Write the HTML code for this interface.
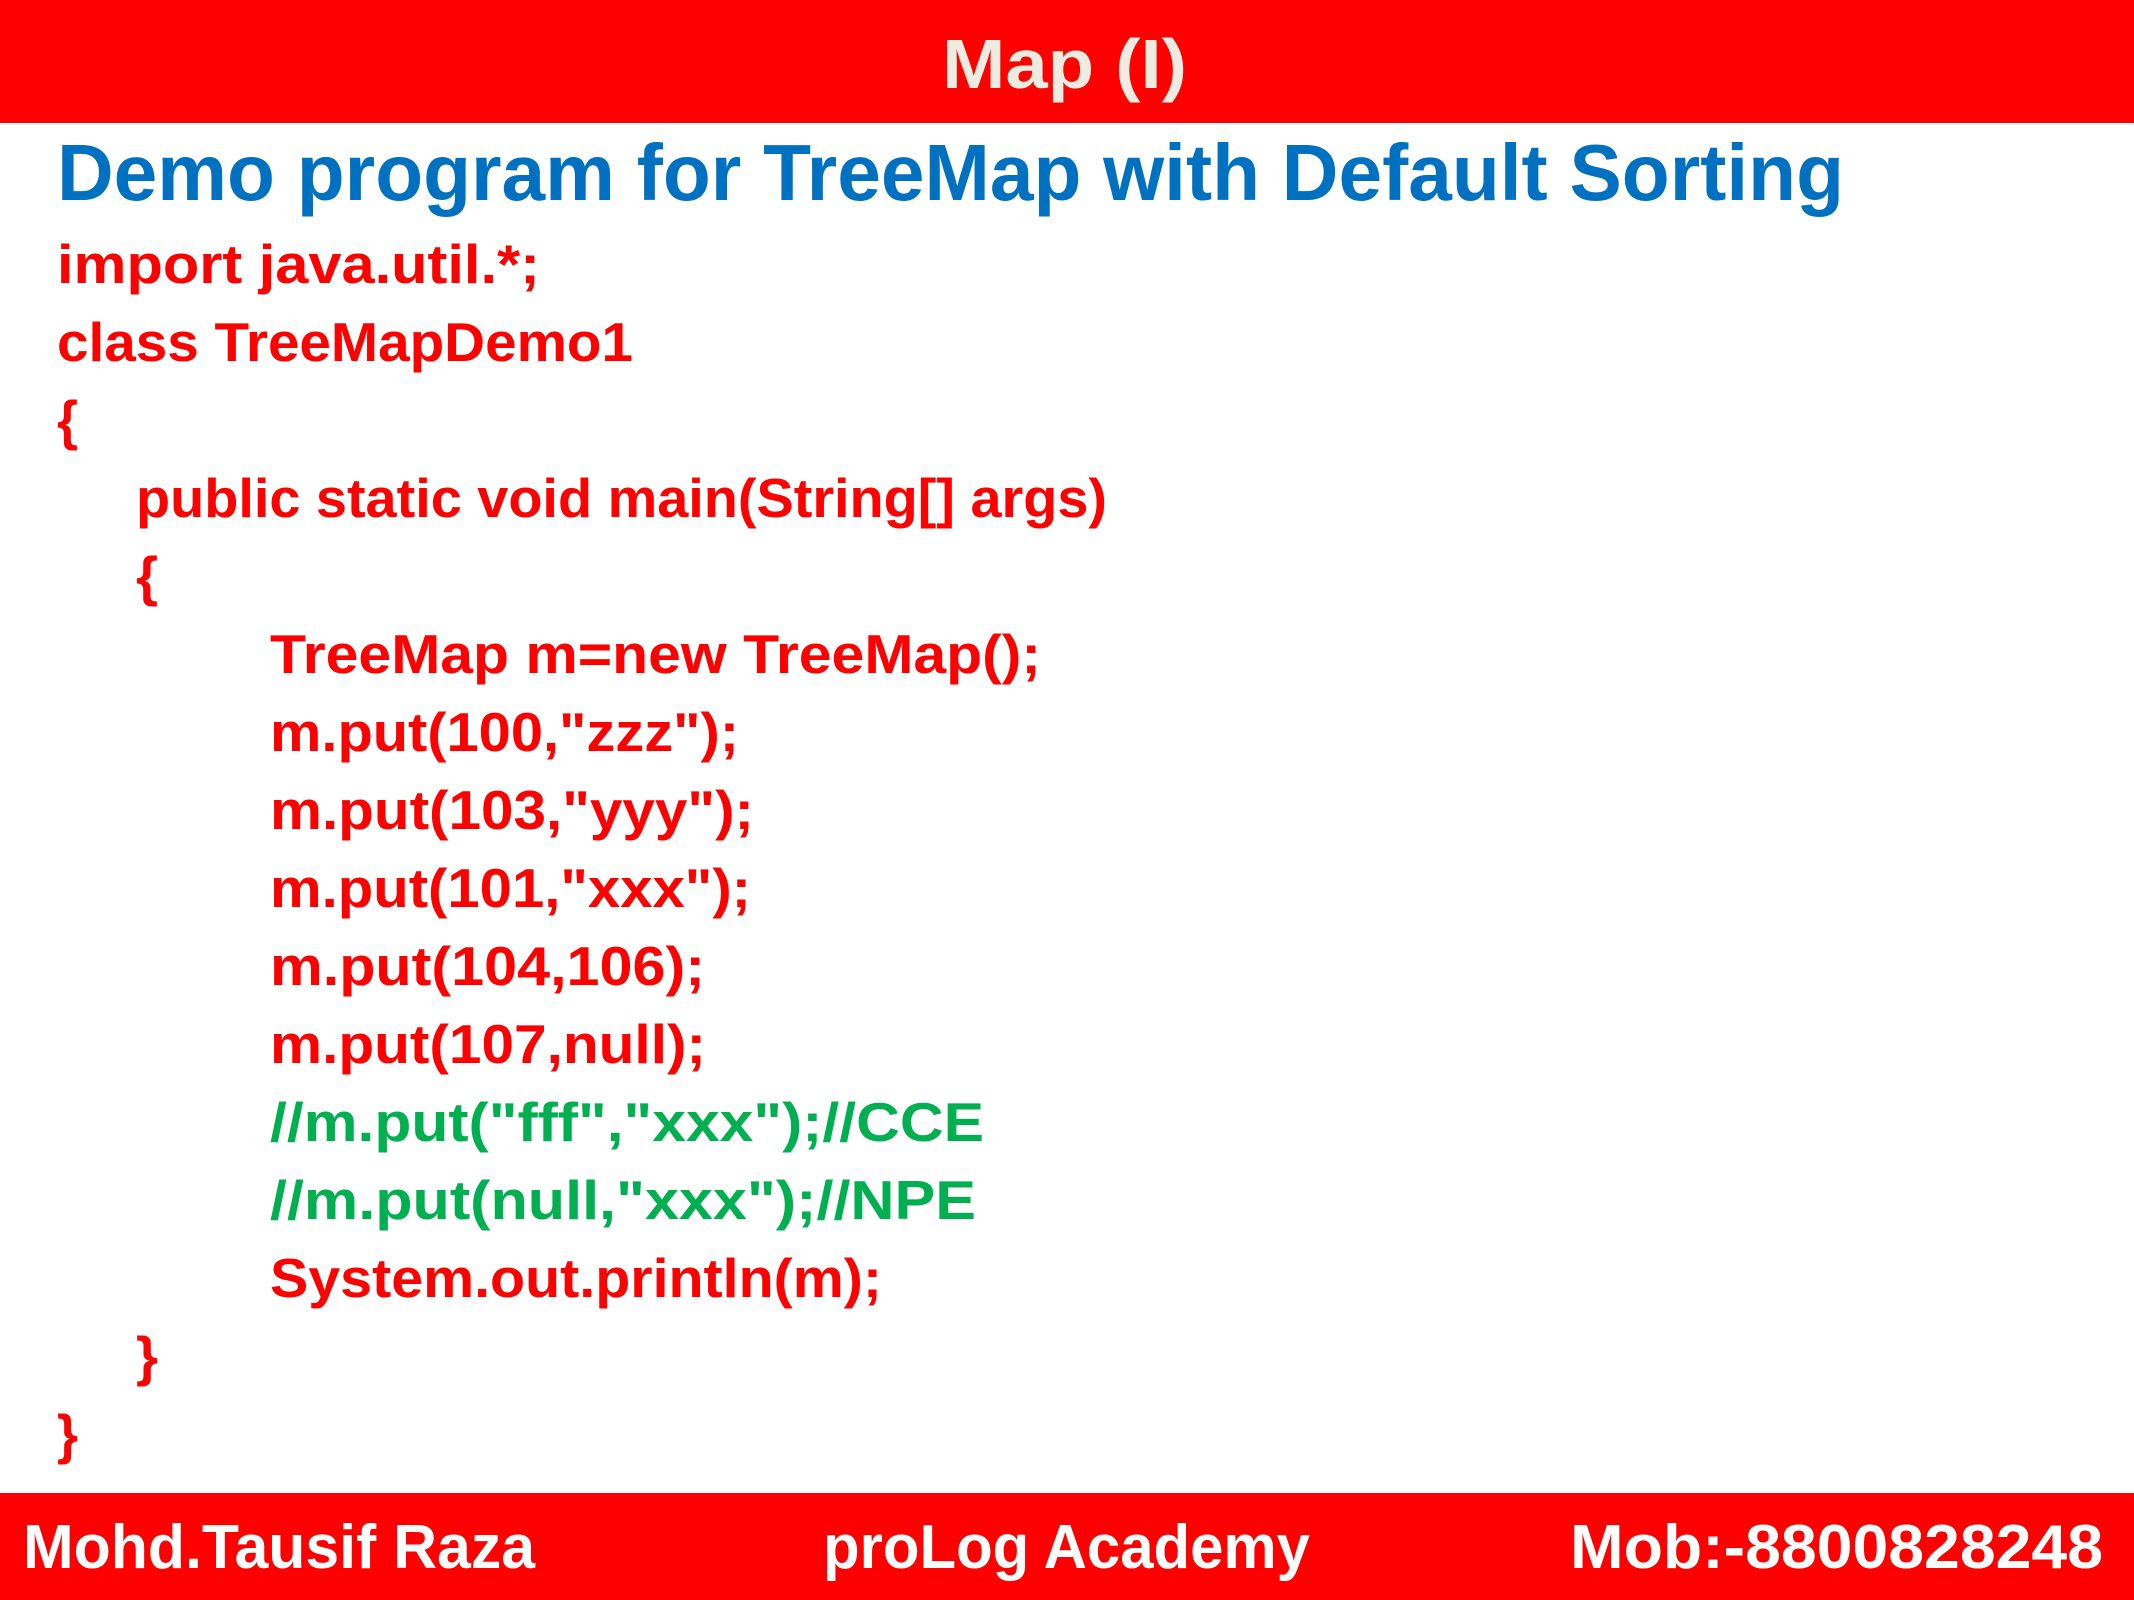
<!DOCTYPE html>
<html><head><meta charset="utf-8"><style>
html,body{margin:0;padding:0;background:#fff;}
svg{display:block;}
text{font-family:"Liberation Sans",sans-serif;font-weight:bold;}
</style></head><body>
<svg width="2134" height="1600" viewBox="0 0 2134 1600" xmlns="http://www.w3.org/2000/svg">
<rect x="0" y="0" width="2134" height="123" fill="#FF0000"/>
<rect x="0" y="1493" width="2134" height="107" fill="#FF0000"/>
<text x="942" y="88" font-size="70" fill="#EEECE1" textLength="245" lengthAdjust="spacingAndGlyphs">Map (I)</text>
<text x="57" y="200" font-size="80" fill="#0070C0" textLength="1787" lengthAdjust="spacingAndGlyphs">Demo program for TreeMap with Default Sorting</text>
<g font-size="55" fill="#FF0000">
<text x="57" y="283" textLength="483" lengthAdjust="spacingAndGlyphs">import java.util.*;</text>
<text x="57" y="361" textLength="576" lengthAdjust="spacingAndGlyphs">class TreeMapDemo1</text>
<text x="57" y="439" textLength="21" lengthAdjust="spacingAndGlyphs">{</text>
<text x="136" y="517" textLength="971" lengthAdjust="spacingAndGlyphs">public static void main(String[] args)</text>
<text x="136" y="595" textLength="22" lengthAdjust="spacingAndGlyphs">{</text>
<text x="270" y="673" textLength="771" lengthAdjust="spacingAndGlyphs">TreeMap m=new TreeMap();</text>
<text x="270" y="751" textLength="469" lengthAdjust="spacingAndGlyphs">m.put(100,"zzz");</text>
<text x="270" y="829" textLength="484" lengthAdjust="spacingAndGlyphs">m.put(103,"yyy");</text>
<text x="270" y="907" textLength="481" lengthAdjust="spacingAndGlyphs">m.put(101,"xxx");</text>
<text x="270" y="985" textLength="435" lengthAdjust="spacingAndGlyphs">m.put(104,106);</text>
<text x="270" y="1063" textLength="436" lengthAdjust="spacingAndGlyphs">m.put(107,null);</text>
<text x="270" y="1141" fill="#00B050" textLength="714" lengthAdjust="spacingAndGlyphs">//m.put("fff","xxx");//CCE</text>
<text x="270" y="1219" fill="#00B050" textLength="706" lengthAdjust="spacingAndGlyphs">//m.put(null,"xxx");//NPE</text>
<text x="270" y="1297" textLength="612" lengthAdjust="spacingAndGlyphs">System.out.println(m);</text>
<text x="136" y="1375" textLength="22" lengthAdjust="spacingAndGlyphs">}</text>
<text x="57" y="1453" textLength="21" lengthAdjust="spacingAndGlyphs">}</text>
</g>
<g font-size="62" fill="#FFFFFF">
<text x="23" y="1568" textLength="512" lengthAdjust="spacingAndGlyphs">Mohd.Tausif Raza</text>
<text x="823" y="1568" textLength="487" lengthAdjust="spacingAndGlyphs">proLog Academy</text>
<text x="1570" y="1568" textLength="533" lengthAdjust="spacingAndGlyphs">Mob:-8800828248</text>
</g>
</svg>
</body></html>
